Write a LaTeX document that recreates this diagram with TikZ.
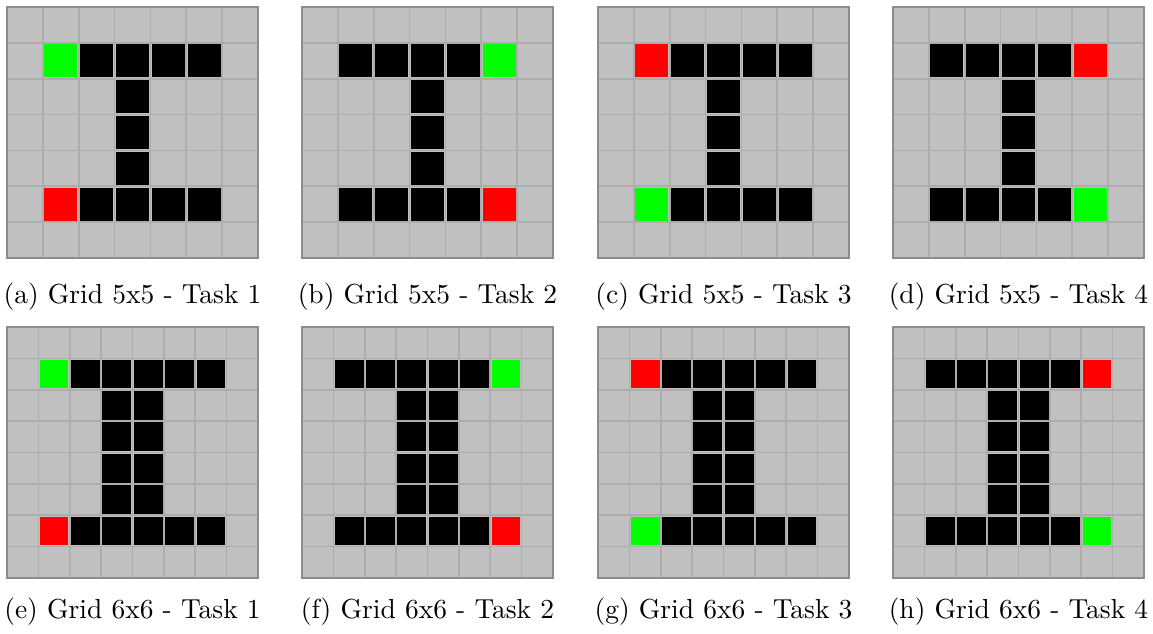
\documentclass[tikz,border=0pt]{standalone}
\usepackage{tikz}

\definecolor{cellgray}{HTML}{C0C0C0}
\definecolor{linegray}{HTML}{ADADAD}
\definecolor{framegray}{HTML}{8C8C8C}
\definecolor{startgreen}{HTML}{00FF00}
\definecolor{goalred}{HTML}{FF0000}

% one panel: corner x, corner y, inner size, stem columns, green cell, red cell
\newcommand{\gridpanel}[6]{%
  \pgfmathsetmacro{\cellsz}{91.27/(#3+2)}
  \pgfmathtruncatemacro{\outer}{#3+2}
  \pgfmathtruncatemacro{\lastrow}{#3-1}
  \begin{scope}[shift={(#1,#2)}, x=\cellsz pt, y=-\cellsz pt]
    \fill[cellgray] (0,0) rectangle (\outer,\outer);
    \foreach \k in {1,...,\outer} {
      \draw[linegray, line width=0.6pt] (\k,0) -- (\k,\outer);
      \draw[linegray, line width=0.6pt] (0,\k) -- (\outer,\k);
    }
    \foreach \c in {1,...,#3} {
      \fill[wall] (\c+0.04,1.04) rectangle (\c+0.96,1.96);
      \fill[wall] (\c+0.04,#3+0.04) rectangle (\c+0.96,#3+0.96);
    }
    \foreach \c in {#4} {
      \foreach \r in {2,...,\lastrow}
        \fill[wall] (\c+0.04,\r+0.04) rectangle (\c+0.96,\r+0.96);
    }
    \fill[startgreen] (#5) ++(0.04,0.04) rectangle ++(0.92,0.92);
    \fill[goalred] (#6) ++(0.04,0.04) rectangle ++(0.92,0.92);
    \draw[framegray, line width=0.7pt] (0,0) rectangle (\outer,\outer);
  \end{scope}
}

\begin{document}
\begin{tikzpicture}[x=0.3636pt, y=-0.3636pt,
  wall/.style={fill=black},
  caption/.style={anchor=base, inner sep=0pt}]
\useasboundingbox (0,0) rectangle (1153,634);

% grids 5x5
\gridpanel{7}{7}{5}{3}{1,1}{1,5}
\gridpanel{302}{7}{5}{3}{5,1}{5,5}
\gridpanel{598}{7}{5}{3}{1,5}{1,1}
\gridpanel{893}{7}{5}{3}{5,5}{5,1}

% grids 6x6
\gridpanel{7}{327}{6}{3,4}{1,1}{1,6}
\gridpanel{302}{327}{6}{3,4}{6,1}{6,6}
\gridpanel{598}{327}{6}{3,4}{1,6}{1,1}
\gridpanel{893}{327}{6}{3,4}{6,6}{6,1}

\node[caption] (capa) at (132.5,304) {(a) Grid 5x5 - Task 1};
\node[caption] (capb) at (427.5,304) {(b) Grid 5x5 - Task 2};
\node[caption] (capc) at (723.5,304) {(c) Grid 5x5 - Task 3};
\node[caption] (capd) at (1018.5,304) {(d) Grid 5x5 - Task 4};
\node[caption] (cape) at (132.5,619) {(e) Grid 6x6 - Task 1};
\node[caption] (capf) at (427.5,619) {(f) Grid 6x6 - Task 2};
\node[caption] (capg) at (723.5,619) {(g) Grid 6x6 - Task 3};
\node[caption] (caph) at (1018.5,619) {(h) Grid 6x6 - Task 4};
\end{tikzpicture}
\end{document}
